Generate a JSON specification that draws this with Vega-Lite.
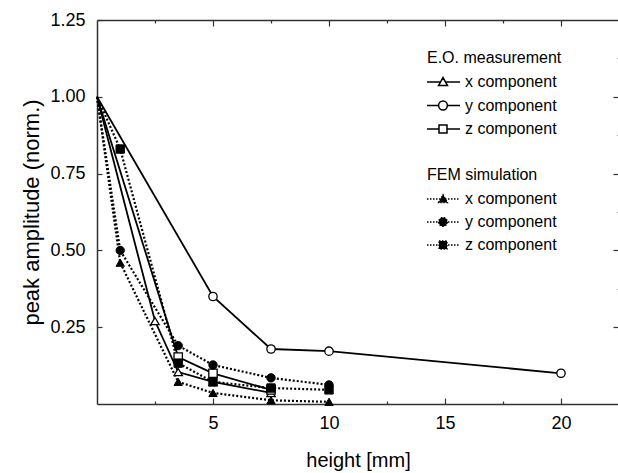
{
  "$schema": "https://vega.github.io/schema/vega-lite/v6.json",
  "width": 522,
  "height": 384,
  "autosize": {"type": "none"},
  "padding": {"left": 97, "top": 20, "right": 0, "bottom": 69},
  "background": "white",
  "config": {
    "view": {"stroke": null},
    "font": "Liberation Sans",
    "axis": {
      "grid": false,
      "domainColor": "#333",
      "tickColor": "#333",
      "domainWidth": 1.5,
      "tickWidth": 1.2,
      "labelColor": "black",
      "titleColor": "black",
      "labelFont": "Liberation Sans",
      "titleFont": "Liberation Sans",
      "titleFontWeight": "normal",
      "labelOverlap": false,
      "labelFlush": false
    }
  },
  "datasets": {
    "eo": [
      {"h": 0, "amp": 1.0, "comp": "x component"},
      {"h": 2.5, "amp": 0.27, "comp": "x component"},
      {"h": 3.5, "amp": 0.104, "comp": "x component"},
      {"h": 5, "amp": 0.072, "comp": "x component"},
      {"h": 7.5, "amp": 0.036, "comp": "x component"},
      {"h": 0, "amp": 1.0, "comp": "y component"},
      {"h": 5, "amp": 0.35, "comp": "y component"},
      {"h": 7.5, "amp": 0.179, "comp": "y component"},
      {"h": 10, "amp": 0.172, "comp": "y component"},
      {"h": 20, "amp": 0.1, "comp": "y component"},
      {"h": 0, "amp": 1.0, "comp": "z component"},
      {"h": 3.5, "amp": 0.153, "comp": "z component"},
      {"h": 5, "amp": 0.1, "comp": "z component"},
      {"h": 7.5, "amp": 0.046, "comp": "z component"}
    ],
    "fem": [
      {"h": 0, "amp": 1.0, "comp": "x component"},
      {"h": 1, "amp": 0.46, "comp": "x component"},
      {"h": 3.5, "amp": 0.072, "comp": "x component"},
      {"h": 5, "amp": 0.036, "comp": "x component"},
      {"h": 7.5, "amp": 0.012, "comp": "x component"},
      {"h": 10, "amp": 0.007, "comp": "x component"},
      {"h": 0, "amp": 1.0, "comp": "y component"},
      {"h": 1, "amp": 0.5, "comp": "y component"},
      {"h": 3.5, "amp": 0.19, "comp": "y component"},
      {"h": 5, "amp": 0.127, "comp": "y component"},
      {"h": 7.5, "amp": 0.085, "comp": "y component"},
      {"h": 10, "amp": 0.062, "comp": "y component"},
      {"h": 0, "amp": 1.0, "comp": "z component"},
      {"h": 1, "amp": 0.83, "comp": "z component"},
      {"h": 3.5, "amp": 0.133, "comp": "z component"},
      {"h": 5, "amp": 0.072, "comp": "z component"},
      {"h": 7.5, "amp": 0.052, "comp": "z component"},
      {"h": 10, "amp": 0.046, "comp": "z component"}
    ]
  },
  "layer": [
    {
      "data": {"name": "eo"},
      "mark": {"type": "line", "color": "black", "strokeWidth": 1.8},
      "encoding": {
        "x": {
          "field": "h", "type": "quantitative",
          "scale": {"domain": [0, 22.5], "nice": false, "zero": false},
          "axis": {
            "orient": "bottom",
            "values": [2.5, 5, 7.5, 10, 12.5, 15, 17.5, 20],
            "labelExpr": "datum.value % 5 == 0 ? datum.label : ''",
            "tickSize": {"condition": {"test": "datum.value % 5 == 0", "value": -6}, "value": -3},
            "labelPadding": 16,
            "labelFontSize": 18,
            "title": "height [mm]",
            "titleFontSize": 20,
            "titlePadding": 15
          }
        },
        "y": {
          "field": "amp", "type": "quantitative",
          "scale": {"domain": [0, 1.25], "nice": false},
          "axis": {
            "orient": "left",
            "values": [0.25, 0.5, 0.75, 1, 1.25],
            "format": ".2f",
            "tickSize": -5,
            "labelPadding": 17,
            "labelFontSize": 18,
            "title": "peak amplitude (norm.)",
            "titleFontSize": 22,
            "titlePadding": 6
          }
        },
        "detail": {"field": "comp"}
      }
    },
    {
      "data": {"name": "fem"},
      "mark": {"type": "line", "color": "black", "strokeWidth": 2.2, "strokeDash": [2, 2]},
      "encoding": {
        "x": {
          "field": "h", "type": "quantitative",
          "axis": {
            "orient": "top",
            "values": [2.5, 5, 7.5, 10, 12.5, 15, 17.5, 20],
            "tickSize": {"condition": {"test": "datum.value % 5 == 0", "value": -6}, "value": -3},
            "labels": false,
            "title": null
          }
        },
        "y": {
          "field": "amp", "type": "quantitative",
          "axis": {
            "orient": "right",
            "values": [0.25, 0.375, 0.5, 0.625, 0.75, 0.875, 1, 1.125],
            "tickSize": {"condition": {"test": "datum.value * 4 % 1 == 0", "value": -6}, "value": -2},
            "labels": false,
            "domain": false,
            "title": null
          }
        },
        "detail": {"field": "comp"}
      }
    },
    {
      "data": {"name": "eo"},
      "transform": [{"filter": "datum.h > 0"}],
      "mark": {"type": "point", "filled": true, "fill": "white", "stroke": "black", "strokeWidth": 1.3, "size": 70, "opacity": 1},
      "encoding": {
        "x": {"field": "h", "type": "quantitative", "axis": null},
        "y": {"field": "amp", "type": "quantitative", "axis": null},
        "shape": {
          "field": "comp", "type": "nominal",
          "scale": {"domain": ["x component", "y component", "z component"], "range": ["triangle-up", "circle", "square"]},
          "legend": null
        }
      }
    },
    {
      "data": {"name": "fem"},
      "transform": [{"filter": "datum.h > 0"}],
      "mark": {"type": "point", "filled": true, "fill": "black", "stroke": "black", "strokeWidth": 1, "size": 70, "opacity": 1},
      "encoding": {
        "x": {"field": "h", "type": "quantitative", "axis": null},
        "y": {"field": "amp", "type": "quantitative", "axis": null},
        "shape": {
          "field": "comp", "type": "nominal",
          "scale": {"domain": ["x component", "y component", "z component"], "range": ["triangle-up", "circle", "square"]},
          "legend": null
        }
      }
    },
    {
      "data": {"name": "eo"},
      "transform": [{"filter": "false"}],
      "mark": {"type": "point", "filled": false, "fill": "white", "stroke": "black", "strokeWidth": 1.5, "size": 64, "opacity": 1},
      "encoding": {
        "shape": {
          "field": "comp", "type": "nominal",
          "scale": {
            "domain": ["x component", "y component", "z component"],
            "range": [
              "M-2,0H1.381M2.619,0H6.25M0.875,0.9L2,-1.1L3.125,0.9Z",
              "M-2,0H0.9A1.1,1.1 0 1,1 3.1,0A1.1,1.1 0 1,1 0.9,0M3.1,0H6.25",
              "M-2,0H1M3,0H6.25M1,-1H3V1H1Z"
            ]
          },
          "legend": {
            "orient": "none", "legendX": 330, "legendY": 30,
            "title": "E.O. measurement",
            "titleFont": "Liberation Sans", "titleFontSize": 16, "titleFontWeight": "normal", "titleColor": "black", "titlePadding": 8,
            "labelFont": "Liberation Sans", "labelFontSize": 16, "labelColor": "black", "labelOffset": 22, "labelLimit": 0,
            "symbolSize": 64, "symbolStrokeWidth": 1.5, "symbolOpacity": 1,
            "rowPadding": 7.5, "padding": 0
          }
        }
      }
    },
    {
      "data": {"name": "fem"},
      "transform": [{"filter": "false"}],
      "mark": {"type": "point", "filled": false, "fill": "black", "stroke": "black", "strokeWidth": 1.3, "strokeDash": [1.5, 1.5], "size": 64, "opacity": 1},
      "encoding": {
        "shape": {
          "field": "comp", "type": "nominal",
          "scale": {
            "domain": ["x component", "y component", "z component"],
            "range": [
              "M-2,0H6.25M0.875,0.9L2,-1.1L3.125,0.9Z",
              "M-2,0H6.25M3.1,0A1.1,1.1 0 1,1 0.9,0A1.1,1.1 0 1,1 3.1,0Z",
              "M-2,0H6.25M1,-1H3V1H1Z"
            ]
          },
          "legend": {
            "orient": "none", "legendX": 330, "legendY": 147,
            "title": "FEM simulation",
            "titleFont": "Liberation Sans", "titleFontSize": 16, "titleFontWeight": "normal", "titleColor": "black", "titlePadding": 8,
            "labelFont": "Liberation Sans", "labelFontSize": 16, "labelColor": "black", "labelOffset": 22, "labelLimit": 0,
            "symbolSize": 64, "symbolStrokeWidth": 1.3, "symbolDash": [1.5, 1.5], "symbolOpacity": 1,
            "rowPadding": 7, "padding": 0
          }
        }
      }
    }
  ],
  "resolve": {
    "scale": {"shape": "independent"},
    "axis": {"x": "independent", "y": "independent"},
    "legend": {"shape": "independent"}
  }
}
